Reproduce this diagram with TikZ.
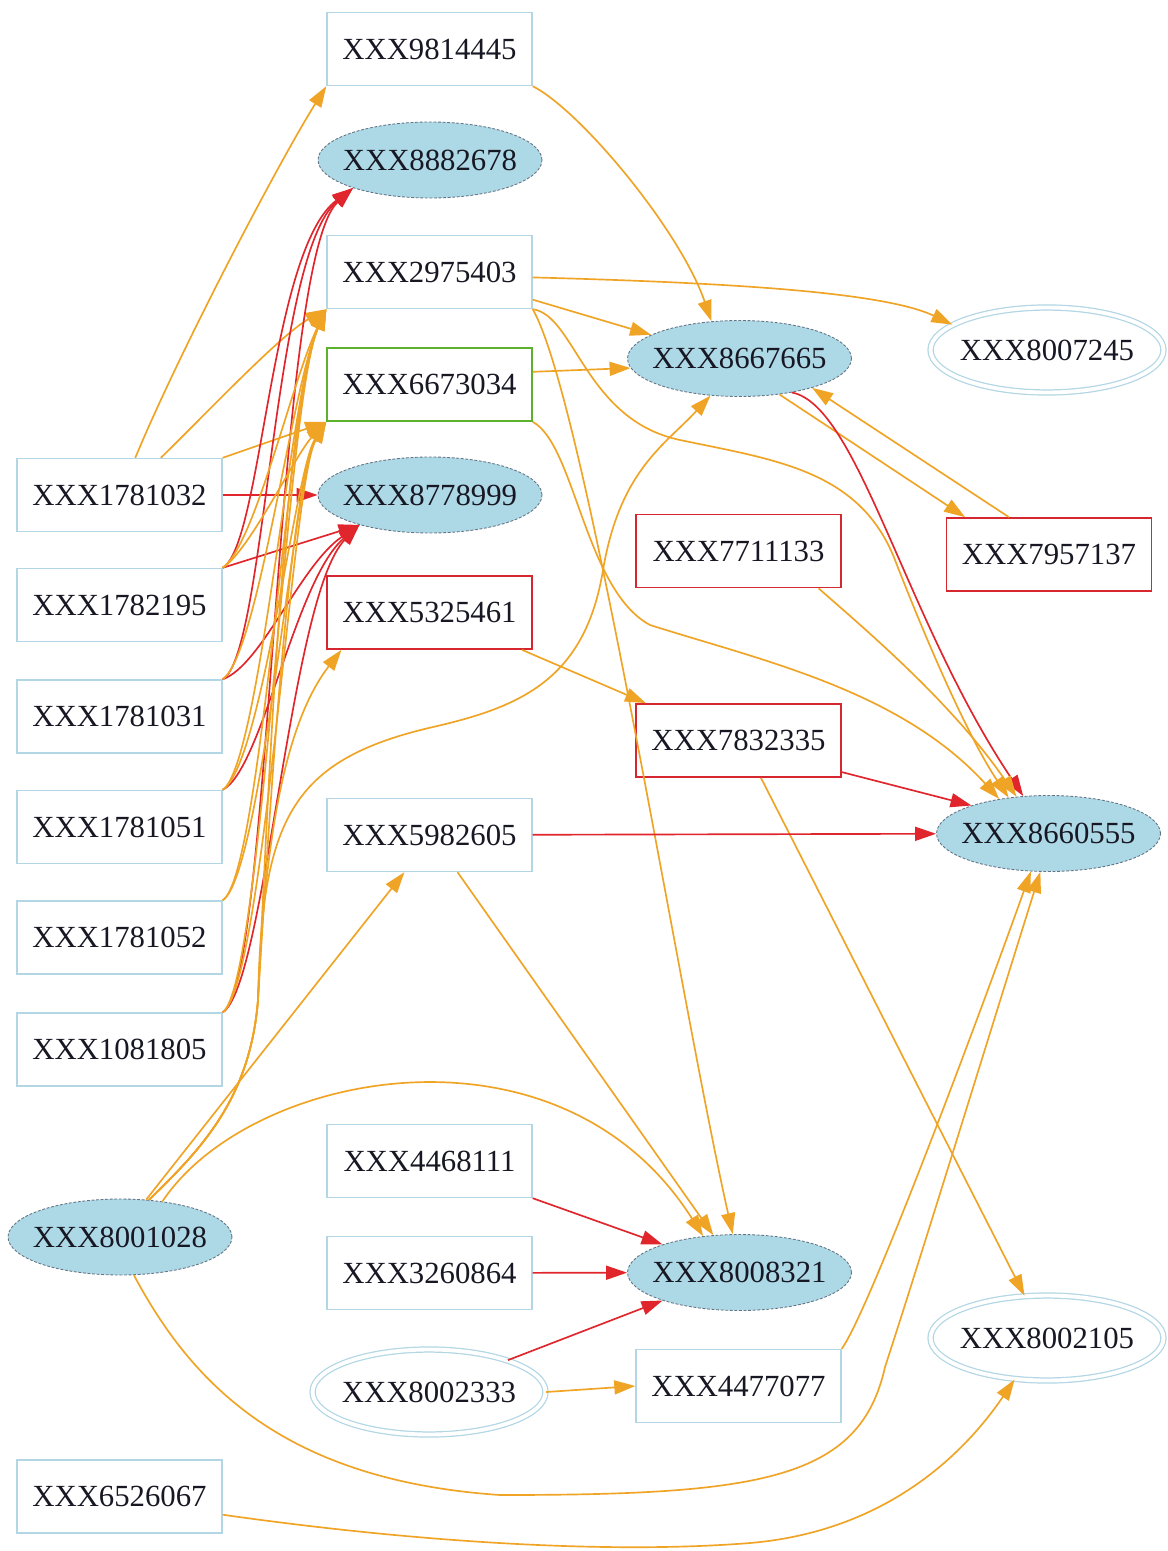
\documentclass[tikz,border=0pt]{standalone}
\usepackage{fontspec}
\setmainfont{Liberation Serif}
\usetikzlibrary{shapes.geometric,arrows.meta}
\definecolor{eorange}{RGB}{240,164,38}
\definecolor{ered}{RGB}{224,38,44}
\definecolor{bblue}{RGB}{178,214,228}
\definecolor{bred}{RGB}{214,38,48}
\definecolor{bgreen}{RGB}{92,178,44}
\definecolor{efill}{RGB}{173,216,230}
\definecolor{eline}{RGB}{100,116,132}
\definecolor{txt}{RGB}{24,24,36}
\newcommand{\lbl}[1]{\makebox[0pt]{#1}}
\tikzset{
  nbox/.style={rectangle, draw=bblue, line width=0.8pt, minimum width=4.1cm, minimum height=1.46cm, inner sep=0pt},
  rbox/.style={nbox, draw=bred, line width=1pt},
  gbox/.style={nbox, draw=bgreen, line width=1pt},
  nell/.style={ellipse, fill=efill, draw=eline, dash pattern=on 1.6pt off 1pt, line width=0.5pt, minimum width=4.48cm, minimum height=1.52cm, inner sep=0pt},
  dell/.style={ellipse, draw=bblue, line width=0.7pt, double=white, double distance=2.2pt, minimum width=4.66cm, minimum height=1.7cm, inner sep=0pt},
  eo/.style={draw=eorange, line width=0.95pt, -{Triangle[length=0.42cm,width=0.28cm]}},
  er/.style={draw=ered, line width=0.95pt, -{Triangle[length=0.42cm,width=0.28cm]}},
}
\begin{document}
\begin{tikzpicture}[x=0.02cm, y=-0.02cm, font=\fontsize{17.5}{20}\selectfont, text=txt]
\fill[white] (0,0) rectangle (1168,1551);
\useasboundingbox (0,0) rectangle (1168,1551);

% middle column
\node[nbox] (n9814445) at (429.5,49) {\lbl{XXX9814445}};
\node[nell] (n8882678) at (430,160) {\lbl{XXX8882678}};
\node[nbox] (n2975403) at (429.5,272) {\lbl{XXX2975403}};
\node[gbox] (n6673034) at (429.5,384.5) {\lbl{XXX6673034}};
\node[nell] (n8778999) at (430,495) {\lbl{XXX8778999}};
\node[rbox] (n5325461) at (429.5,612.5) {\lbl{XXX5325461}};
\node[nbox] (n5982605) at (429.5,835) {\lbl{XXX5982605}};
\node[nbox] (n4468111) at (429.5,1161) {\lbl{XXX4468111}};
\node[nbox] (n3260864) at (429.5,1273) {\lbl{XXX3260864}};
\node[dell] (n8002333) at (429,1392) {\lbl{XXX8002333}};

% left column
\node[nbox] (n1781032) at (119.5,495) {\lbl{XXX1781032}};
\node[nbox] (n1782195) at (119.5,605) {\lbl{XXX1782195}};
\node[nbox] (n1781031) at (119.5,716.5) {\lbl{XXX1781031}};
\node[nbox] (n1781051) at (119.5,827) {\lbl{XXX1781051}};
\node[nbox] (n1781052) at (119.5,937.5) {\lbl{XXX1781052}};
\node[nbox] (n1081805) at (119.5,1049.5) {\lbl{XXX1081805}};
\node[nell] (n8001028) at (120,1237) {\lbl{XXX8001028}};
\node[nbox] (n6526067) at (119.5,1496.5) {\lbl{XXX6526067}};

% third column
\node[nell] (n8667665) at (739.5,358.5) {\lbl{XXX8667665}};
\node[rbox] (n7711133) at (738.5,551) {\lbl{XXX7711133}};
\node[rbox] (n7832335) at (738.5,740.5) {\lbl{XXX7832335}};
\node[nell] (n8008321) at (739.5,1272.5) {\lbl{XXX8008321}};
\node[nbox] (n4477077) at (738.5,1386) {\lbl{XXX4477077}};

% fourth column
\node[dell] (n8007245) at (1047,350) {\lbl{XXX8007245}};
\node[rbox] (n7957137) at (1049,554.5) {\lbl{XXX7957137}};
\node[nell] (n8660555) at (1048.5,833.5) {\lbl{XXX8660555}};
\node[dell] (n8002105) at (1047,1338) {\lbl{XXX8002105}};

% XXX1781032
\draw[eo] (n1781032.67) .. controls (180,350) and (280,160) .. (n9814445.south west);
\draw[eo] (n1781032.42) .. controls (200,420) and (280,335) .. (n2975403.south west);
\draw[eo] (n1781032.north east) -- (n6673034.south west);
\draw[er] (n1781032) -- (n8778999);

% bundle: to XXX8882678 (red)
\draw[er] (n1782195.north east) .. controls (262,545) and (270,250) .. (n8882678.200);
\draw[er] (n1781031.north east) .. controls (266,655) and (272,255) .. (n8882678.200);
\draw[er] (n1081805.north east) .. controls (272,985) and (274,260) .. (n8882678.200);
% bundle: to XXX8778999 (red)
\draw[er] (n1782195.north east) -- (n8778999.203);
\draw[er] (n1781031.north east) .. controls (262,665) and (300,565) .. (n8778999.203);
\draw[er] (n1781051.north east) .. controls (262,770) and (295,580) .. (n8778999.203);
\draw[er] (n1081805.north east) .. controls (266,985) and (290,595) .. (n8778999.203);
% bundle: to XXX2975403 (orange)
\draw[eo] (n1782195.north east) .. controls (255,545) and (292,380) .. (n2975403.south west);
\draw[eo] (n1781031.north east) .. controls (258,655) and (292,385) .. (n2975403.south west);
\draw[eo] (n1781051.north east) .. controls (260,765) and (290,390) .. (n2975403.south west);
\draw[eo] (n1781052.north east) .. controls (262,875) and (288,395) .. (n2975403.south west);
\draw[eo] (n1081805.north east) .. controls (262,985) and (286,400) .. (n2975403.south west);
\draw[eo] (n8001028.52) .. controls (200,1150) and (250,1100) .. (258,1000) .. controls (268,800) and (284,405) .. (n2975403.south west);
% bundle: to XXX6673034 (orange)
\draw[eo] (n1782195.north east) .. controls (250,550) and (295,455) .. (n6673034.south west);
\draw[eo] (n1781051.north east) .. controls (262,765) and (295,470) .. (n6673034.south west);
\draw[eo] (n1781052.north east) .. controls (262,875) and (294,475) .. (n6673034.south west);
\draw[eo] (n1081805.north east) .. controls (264,985) and (292,480) .. (n6673034.south west);
\draw[eo] (n8001028.52) .. controls (200,1150) and (250,1100) .. (258,1000) .. controls (270,800) and (290,485) .. (n6673034.south west);

% XXX8001028
\draw[eo] (n8001028.52) .. controls (200,1150) and (250,1100) .. (258,1000) .. controls (262,820) and (290,760) .. (433,727) .. controls (520,707) and (585,680) .. (603,570) .. controls (620,470) and (665,445) .. (n8667665.232);
\draw[eo] (n8001028.52) .. controls (200,1150) and (250,1100) .. (258,1000) .. controls (266,800) and (295,710) .. (n5325461.203);
\draw[eo] (n8001028.55) -- (n5982605.236);
\draw[eo] (n8001028.40) .. controls (250,1070) and (560,1010) .. (n8008321.135);
\draw[eo] (n8001028.290) .. controls (190,1380) and (280,1480) .. (500,1495) .. controls (760,1495) and (860,1480) .. (885,1367) .. controls (920,1260) and (1000,1000) .. (n8660555.258);

% XXX2975403
\draw[eo] (n2975403.357) .. controls (700,282) and (880,290) .. (n8007245.165);
\draw[eo] (n2975403.345) -- (n8667665.165);
\draw[eo] (n2975403.south east) .. controls (575,315) and (585,420) .. (680,440) .. controls (775,460) and (860,470) .. (895,560) .. controls (930,650) and (970,740) .. (n8660555.138);
\draw[eo] (n2975403.south east) .. controls (585,400) and (680,1000) .. (n8008321.100);

% XXX6673034
\draw[eo] (n6673034.7) -- (n8667665.185);
\draw[eo] (n6673034.south east) .. controls (575,445) and (585,590) .. (650,625) .. controls (760,660) and (900,690) .. (n8660555.145);

% XXX9814445
\draw[eo] (n9814445.south east) .. controls (580,110) and (680,230) .. (n8667665.127);

% XXX8667665 / XXX7957137
\draw[eo] (n8667665.318) -- (n7957137.156);
\draw[eo] (n7957137.137) -- (n8667665.338);
\draw[er] (n8667665.327) .. controls (858,405) and (905,620) .. (n8660555.124);

% XXX7711133
\draw[eo] (n7711133.335) .. controls (860,625) and (950,700) .. (n8660555.131);

% XXX5325461
\draw[eo] (n5325461.338) -- (n7832335.158);

% XXX7832335
\draw[er] (n7832335.343) -- (n8660555.160);
\draw[eo] (n7832335.301) -- (n8002105.118);

% XXX5982605
\draw[eo] (n5982605.307) -- (n8008321.125);
\draw[er] (n5982605) -- (n8660555);

% lower part
\draw[er] (n4468111.south east) -- (n8008321.160);
\draw[er] (n3260864) -- (n8008321);
\draw[er] (n8002333.22) -- (n8008321.200);
\draw[eo] (n8002333.east) -- (n4477077.west);
\draw[eo] (n4477077.north east) .. controls (870,1310) and (985,1000) .. (n8660555.245);
\draw[eo] (n6526067.350) .. controls (400,1540) and (600,1555) .. (750,1543) .. controls (880,1532) and (960,1460) .. (n8002105.232);
\end{tikzpicture}
\end{document}
